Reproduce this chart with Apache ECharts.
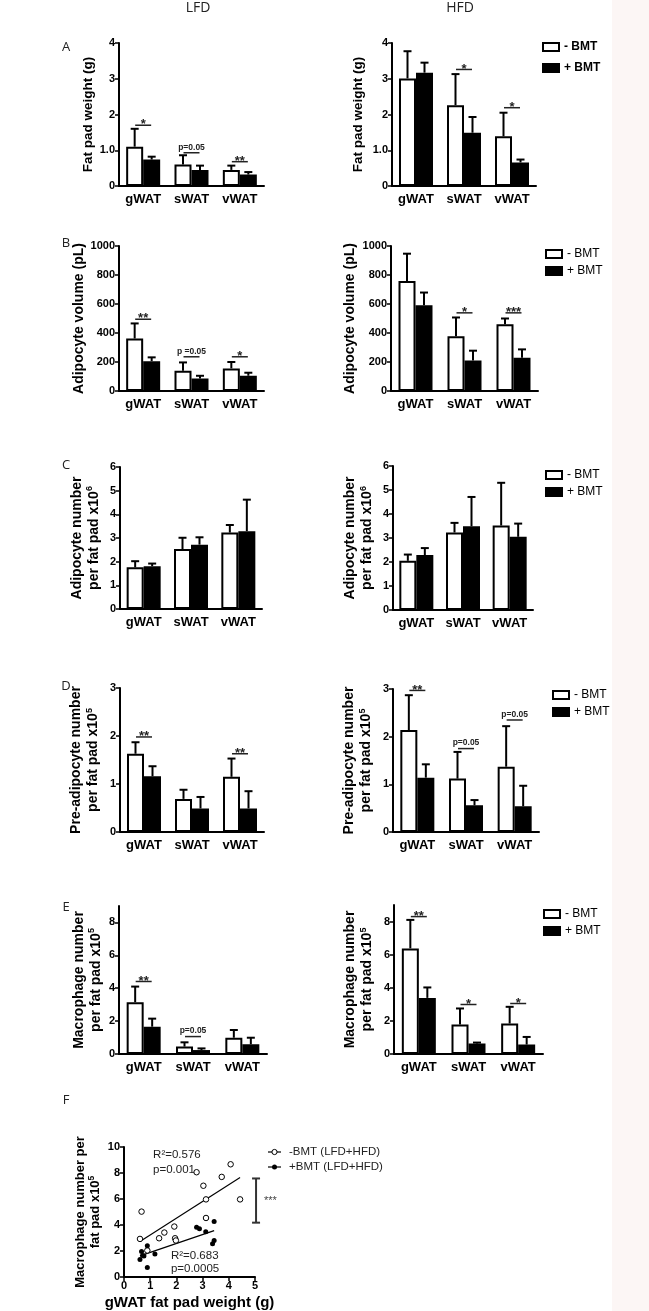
<!DOCTYPE html>
<html><head><meta charset="utf-8">
<script src="https://cdn.jsdelivr.net/npm/echarts@6/dist/echarts.min.js"></script>
<style>html,body{margin:0;padding:0;background:#fff}#c{width:649px;height:1311px}</style>
</head><body><div id="c"></div>
<script>
// ---------------- DATA ----------------
const categories = ['gWAT', 'sWAT', 'vWAT'];
const seriesNames = ['- BMT', '+ BMT'];

// A: Fat pad weight (g)
const fatLFD_minus = [1.10, 0.60, 0.45];
const fatLFD_minusSD = [0.50, 0.26, 0.12];
const fatLFD_plus = [0.74, 0.45, 0.32];
const fatLFD_plusSD = [0.08, 0.12, 0.07];
const fatHFD_minus = [3.01, 2.26, 1.39];
const fatHFD_minusSD = [0.76, 0.87, 0.66];
const fatHFD_plus = [3.17, 1.49, 0.66];
const fatHFD_plusSD = [0.28, 0.44, 0.08];
const fatLFD_sig = [[0, 1.70, '*'], [1, 0.93, 'p=0.05'], [2, 0.68, '**']];
const fatHFD_sig = [[1, 3.26, '*'], [2, 2.19, '*']];

// B: Adipocyte volume (pL)
const volLFD_minus = [362, 140, 156];
const volLFD_minusSD = [104, 57, 44];
const volLFD_plus = [206, 87, 105];
const volLFD_plusSD = [26, 18, 21];
const volHFD_minus = [759, 378, 461];
const volHFD_minusSD = [188, 129, 39];
const volHFD_plus = [592, 211, 229];
const volHFD_plusSD = [87, 67, 58];
const volLFD_sig = [[0, 495, '**'], [1, 236, 'p =0.05'], [2, 236, '*']];
const volHFD_sig = [[1, 539, '*'], [2, 539, '***']];

// C: Adipocyte number per fat pad x10^6
const numLFD_minus = [1.76, 2.53, 3.23];
const numLFD_minusSD = [0.26, 0.48, 0.32];
const numLFD_plus = [1.81, 2.72, 3.29];
const numLFD_plusSD = [0.11, 0.31, 1.33];
const numHFD_minus = [2.05, 3.23, 3.52];
const numHFD_minusSD = [0.26, 0.40, 1.78];
const numHFD_plus = [2.29, 3.49, 3.05];
const numHFD_plusSD = [0.29, 1.22, 0.55];

// D: Pre-adipocyte number per fat pad x10^5
const preLFD_minus = [1.63, 0.69, 1.15];
const preLFD_minusSD = [0.24, 0.19, 0.38];
const preLFD_plus = [1.16, 0.49, 0.49];
const preLFD_plusSD = [0.21, 0.24, 0.36];
const preHFD_minus = [2.14, 1.12, 1.37];
const preHFD_minusSD = [0.73, 0.56, 0.85];
const preHFD_plus = [1.14, 0.56, 0.54];
const preHFD_plusSD = [0.28, 0.11, 0.43];
const preLFD_sig = [[0, 1.98, '**'], [2, 1.63, '**']];
const preHFD_sig = [[0, 2.97, '**'], [1, 1.75, 'p=0.05'], [2, 2.35, 'p=0.05']];

// E: Macrophage number per fat pad x10^5
const macLFD_minus = [3.15, 0.45, 0.99];
const macLFD_minusSD = [0.95, 0.26, 0.47];
const macLFD_plus = [1.66, 0.24, 0.59];
const macLFD_plusSD = [0.49, 0.10, 0.40];
const macHFD_minus = [6.38, 1.78, 1.84];
const macHFD_minusSD = [1.72, 0.97, 1.01];
const macHFD_plus = [3.39, 0.63, 0.57];
const macHFD_plusSD = [0.63, 0.06, 0.46];
const macLFD_sig = [[0, 4.41, '**'], [1, 1.06, 'p=0.05']];
const macHFD_sig = [[0, 8.30, '**'], [1, 2.99, '*'], [2, 3.05, '*']];
const macTicks = [0, 2, 4, 6, 8];

// F: scatter gWAT fat pad weight vs macrophage number
const scatterMinus = [[0.61, 2.93], [0.67, 5.03], [0.89, 2.04], [1.34, 2.98], [1.54, 3.42], [1.92, 3.88], [1.95, 2.98], [1.98, 2.81], [2.77, 8.06], [3.03, 7.02], [3.13, 5.97], [3.13, 4.54], [3.73, 7.70], [4.07, 8.67], [4.43, 5.97]];
const scatterPlus = [[0.61, 1.35], [0.67, 1.96], [0.71, 1.66], [0.76, 1.62], [0.89, 2.40], [0.89, 0.74], [1.18, 1.76], [2.77, 3.83], [2.88, 3.72], [3.12, 3.49], [3.38, 2.55], [3.44, 2.81], [3.44, 4.26]];
const fitMinus = [[0.61, 2.73], [4.43, 7.65]];
const fitPlus = [[0.61, 1.63], [3.44, 3.57]];
const bracketF = [[5.04, 4.18, 7.58]];
const statsF = [[1.11, 9.36, 'R²=0.576'], [1.11, 8.27, 'p=0.001'], [1.79, 1.66, 'R²=0.683'], [1.79, 0.64, 'p=0.0005']];
const legendF = ['-BMT (LFD+HFD)', '+BMT (LFD+HFD)'];

// ---------------- BUILD ----------------
const FONT = '"Liberation Sans", Arial, Helvetica, sans-serif';
const LFONT = '"Open Sans", "Noto Sans", sans-serif';
const BW = 17;
const grids = [], xAxes = [], yAxes = [], series = [], legends = [];

function errRender(params, api) {
  const base = api.coord([api.value(0), api.value(1)]);
  const top = api.coord([api.value(0), api.value(2)]);
  const x = base[0] + api.value(3) * BW / 2;
  return {
    type: 'group', children: [
      { type: 'line', shape: { x1: x, y1: base[1], x2: x, y2: top[1] }, style: { stroke: '#000', lineWidth: 2 } },
      { type: 'line', shape: { x1: x - 4, y1: top[1], x2: x + 4, y2: top[1] }, style: { stroke: '#000', lineWidth: 2 } }
    ]
  };
}

function makeSigRender(sig) {
  return function (params, api) {
    const s = sig[params.dataIndex];
    const pt = api.coord([s[0], s[1]]);
    const star = s[2].indexOf('*') >= 0;
    return {
      type: 'group', children: [
        { type: 'line', shape: { x1: pt[0] - 8, y1: pt[1], x2: pt[0] + 8, y2: pt[1] }, style: { stroke: '#222', lineWidth: 1.5 } },
        {
          type: 'text', x: pt[0], y: star ? pt[1] + 6 : pt[1] - 1,
          style: {
            text: s[2], fill: '#222', fontFamily: FONT, fontWeight: 'bold',
            fontSize: star ? 13 : 8.5, align: 'center', verticalAlign: 'bottom'
          }
        }
      ]
    };
  };
}

function addBarPanel(p) {
  const gi = grids.length;
  grids.push({ left: p.box[0], top: p.box[1], width: p.box[2], height: p.box[3], containLabel: false, outerBoundsMode: 'none' });
  xAxes.push({
    type: 'category', gridIndex: gi, data: categories,
    axisLine: { show: true, lineStyle: { color: '#000', width: 2 } },
    axisTick: { show: false },
    axisLabel: { color: '#000', fontWeight: 'bold', fontSize: 13, fontFamily: FONT, margin: 7 },
    splitLine: { show: false }
  });
  const y = {
    type: 'value', gridIndex: gi, min: 0, max: p.max, interval: p.interval,
    name: p.name, nameLocation: 'middle', nameGap: p.nameGap, nameRotate: 90,
    nameTextStyle: {
      color: '#000', fontWeight: 'bold', fontSize: p.nameSize, fontFamily: FONT, lineHeight: p.nameLH,
      rich: { sup: { fontSize: 9, fontWeight: 'bold', color: '#000', fontFamily: FONT, verticalAlign: 'top', lineHeight: p.nameLH } }
    },
    axisLine: { show: true, lineStyle: { color: '#000', width: 2 } },
    axisTick: { show: true, length: 4, lineStyle: { color: '#000', width: 1.5 } },
    axisLabel: { color: '#000', fontWeight: 'bold', fontSize: 11, fontFamily: FONT, margin: 4, formatter: p.fmt || (v => String(v)) },
    splitLine: { show: false }
  };
  if (p.ticks) {
    y.axisTick.customValues = p.ticks;
    y.axisLabel.customValues = p.ticks;
  }
  yAxes.push(y);
  series.push({
    type: 'bar', name: seriesNames[0], xAxisIndex: gi, yAxisIndex: gi, data: p.minus,
    barWidth: BW, barGap: '0%', itemStyle: { color: '#fff', borderColor: '#000', borderWidth: 2 },
    silent: true, animation: false, z: 2
  });
  series.push({
    type: 'bar', name: seriesNames[1], xAxisIndex: gi, yAxisIndex: gi, data: p.plus,
    barWidth: BW, barGap: '0%', itemStyle: { color: '#000', borderColor: '#000', borderWidth: 2 },
    silent: true, animation: false, z: 2
  });
  const err = p.minus.map((m, i) => [i, m, m + p.minusSD[i], -1])
    .concat(p.plus.map((m, i) => [i, m, m + p.plusSD[i], 1]));
  series.push({
    type: 'custom', name: 'err' + gi, xAxisIndex: gi, yAxisIndex: gi, data: err,
    encode: { x: 0, y: [1, 2] }, renderItem: errRender, silent: true, animation: false, z: 3
  });
  if (p.sig && p.sig.length) {
    series.push({
      type: 'custom', name: 'sig' + gi, xAxisIndex: gi, yAxisIndex: gi,
      data: p.sig.map(s => [s[0], s[1]]), encode: { x: 0, y: 1 },
      renderItem: makeSigRender(p.sig), silent: true, animation: false, z: 4
    });
  }
  if (p.legend) {
    legends.push({
      orient: 'vertical', left: p.legend[0], top: p.legend[1], itemGap: p.legend[2],
      itemWidth: 16, itemHeight: 8, icon: 'rect', data: seriesNames, selectedMode: false,
      padding: 0,
      textStyle: { fontSize: 12, fontWeight: p.legendBold ? 'bold' : 'normal', color: '#000', fontFamily: FONT, lineHeight: 14 }
    });
  }
}

const fmt1 = v => (v === 1 ? '1.0' : String(v));

addBarPanel({ box: [119, 43, 145, 143], max: 4, interval: 1, fmt: fmt1, name: 'Fat pad weight (g)', nameGap: 23.5, nameSize: 13.5, nameLH: 15,
  minus: fatLFD_minus, minusSD: fatLFD_minusSD, plus: fatLFD_plus, plusSD: fatLFD_plusSD, sig: fatLFD_sig });
addBarPanel({ box: [392, 43, 144, 143], max: 4, interval: 1, fmt: fmt1, name: 'Fat pad weight (g)', nameGap: 26.5, nameSize: 13.5, nameLH: 15,
  minus: fatHFD_minus, minusSD: fatHFD_minusSD, plus: fatHFD_plus, plusSD: fatHFD_plusSD, sig: fatHFD_sig,
  legend: [542, 40, 7], legendBold: true });

addBarPanel({ box: [119, 246, 145, 145], max: 1000, interval: 200, name: 'Adipocyte volume (pL)', nameGap: 26.5, nameSize: 14, nameLH: 15,
  minus: volLFD_minus, minusSD: volLFD_minusSD, plus: volLFD_plus, plusSD: volLFD_plusSD, sig: volLFD_sig });
addBarPanel({ box: [391, 246, 147, 145], max: 1000, interval: 200, name: 'Adipocyte volume (pL)', nameGap: 33.5, nameSize: 14, nameLH: 15,
  minus: volHFD_minus, minusSD: volHFD_minusSD, plus: volHFD_plus, plusSD: volHFD_plusSD, sig: volHFD_sig,
  legend: [545, 247, 3] });

addBarPanel({ box: [120, 467, 142, 142], max: 6, interval: 1, name: 'Adipocyte number\nper fat pad x10{sup|6}', nameGap: 17.5, nameSize: 14, nameLH: 17,
  minus: numLFD_minus, minusSD: numLFD_minusSD, plus: numLFD_plus, plusSD: numLFD_plusSD });
addBarPanel({ box: [393, 466, 140, 144], max: 6, interval: 1, name: 'Adipocyte number\nper fat pad x10{sup|6}', nameGap: 17, nameSize: 14, nameLH: 17,
  minus: numHFD_minus, minusSD: numHFD_minusSD, plus: numHFD_plus, plusSD: numHFD_plusSD,
  legend: [545, 468, 3] });

addBarPanel({ box: [120, 688, 144, 144], max: 3, interval: 1, name: 'Pre-adipocyte number\nper fat pad x10{sup|5}', nameGap: 18, nameSize: 14, nameLH: 17,
  minus: preLFD_minus, minusSD: preLFD_minusSD, plus: preLFD_plus, plusSD: preLFD_plusSD, sig: preLFD_sig });
addBarPanel({ box: [393, 689, 146, 143], max: 3, interval: 1, name: 'Pre-adipocyte number\nper fat pad x10{sup|5}', nameGap: 18, nameSize: 14, nameLH: 17,
  minus: preHFD_minus, minusSD: preHFD_minusSD, plus: preHFD_plus, plusSD: preHFD_plusSD, sig: preHFD_sig,
  legend: [552, 688, 3] });

addBarPanel({ box: [119, 906, 148, 148], max: 9, interval: 1, ticks: macTicks, name: 'Macrophage number\nper fat pad x10{sup|5}', nameGap: 14.5, nameSize: 14, nameLH: 17,
  minus: macLFD_minus, minusSD: macLFD_minusSD, plus: macLFD_plus, plusSD: macLFD_plusSD, sig: macLFD_sig });
addBarPanel({ box: [394, 905, 149, 149], max: 9, interval: 1, ticks: macTicks, name: 'Macrophage number\nper fat pad x10{sup|5}', nameGap: 18, nameSize: 14, nameLH: 17,
  minus: macHFD_minus, minusSD: macHFD_minusSD, plus: macHFD_plus, plusSD: macHFD_plusSD, sig: macHFD_sig,
  legend: [543, 907, 3] });

// Panel F
const gF = grids.length;
grids.push({ left: 124, top: 1147, width: 131, height: 130, containLabel: false, outerBoundsMode: 'none' });
xAxes.push({
  type: 'value', gridIndex: gF, min: 0, max: 5, interval: 1,
  name: 'gWAT fat pad weight (g)', nameLocation: 'middle', nameGap: 17.5,
  nameTextStyle: { color: '#000', fontWeight: 'bold', fontSize: 15, fontFamily: FONT, lineHeight: 17 },
  axisLine: { show: true, lineStyle: { color: '#000', width: 2 } },
  axisTick: { show: true, length: 4, lineStyle: { color: '#000', width: 1.5 } },
  axisLabel: { color: '#000', fontWeight: 'bold', fontSize: 11, fontFamily: FONT, margin: 3 },
  splitLine: { show: false }
});
yAxes.push({
  type: 'value', gridIndex: gF, min: 0, max: 10, interval: 2,
  name: 'Macrophage number per\nfat pad x10{sup|5}', nameLocation: 'middle', nameGap: 21.5, nameRotate: 90,
  nameTextStyle: {
    color: '#000', fontWeight: 'bold', fontSize: 13, fontFamily: FONT, lineHeight: 15,
    rich: { sup: { fontSize: 8.5, fontWeight: 'bold', color: '#000', fontFamily: FONT, verticalAlign: 'top', lineHeight: 15 } }
  },
  axisLine: { show: true, lineStyle: { color: '#000', width: 2 } },
  axisTick: { show: true, length: 4, lineStyle: { color: '#000', width: 1.5 } },
  axisLabel: { color: '#000', fontWeight: 'bold', fontSize: 11, fontFamily: FONT, margin: 4 },
  splitLine: { show: false }
});
series.push({
  type: 'line', name: 'fitMinus', xAxisIndex: gF, yAxisIndex: gF, data: fitMinus, symbol: 'none',
  lineStyle: { color: '#000', width: 1.2 }, silent: true, animation: false, z: 2
});
series.push({
  type: 'line', name: 'fitPlus', xAxisIndex: gF, yAxisIndex: gF, data: fitPlus, symbol: 'none',
  lineStyle: { color: '#000', width: 1.2 }, silent: true, animation: false, z: 2
});
series.push({
  type: 'scatter', name: legendF[0], xAxisIndex: gF, yAxisIndex: gF, data: scatterMinus,
  symbol: 'circle', symbolSize: 5.5, itemStyle: { color: '#fff', borderColor: '#000', borderWidth: 1, opacity: 1 },
  silent: true, animation: false, z: 3
});
series.push({
  type: 'scatter', name: legendF[1], xAxisIndex: gF, yAxisIndex: gF, data: scatterPlus,
  symbol: 'circle', symbolSize: 5, itemStyle: { color: '#000', opacity: 1 },
  silent: true, animation: false, z: 3
});
series.push({
  type: 'custom', name: 'bracketF', xAxisIndex: gF, yAxisIndex: gF, data: bracketF, encode: { x: 0, y: [1, 2] },
  silent: true, animation: false, z: 4,
  renderItem: function (params, api) {
    const lo = api.coord([api.value(0), api.value(1)]);
    const hi = api.coord([api.value(0), api.value(2)]);
    const st = { stroke: '#333', lineWidth: 2 };
    return {
      type: 'group', children: [
        { type: 'line', shape: { x1: lo[0], y1: lo[1], x2: hi[0], y2: hi[1] }, style: st },
        { type: 'line', shape: { x1: lo[0] - 4, y1: lo[1], x2: lo[0] + 4, y2: lo[1] }, style: st },
        { type: 'line', shape: { x1: hi[0] - 4, y1: hi[1], x2: hi[0] + 4, y2: hi[1] }, style: st },
        { type: 'text', x: lo[0] + 8, y: (lo[1] + hi[1]) / 2, style: { text: '***', fill: '#444', fontSize: 11, fontFamily: FONT, align: 'left', verticalAlign: 'middle' } }
      ]
    };
  }
});
series.push({
  type: 'custom', name: 'statsF', xAxisIndex: gF, yAxisIndex: gF, data: statsF.map(s => [s[0], s[1]]), encode: { x: 0, y: 1 },
  silent: true, animation: false, z: 4,
  renderItem: function (params, api) {
    const s = statsF[params.dataIndex];
    const pt = api.coord([s[0], s[1]]);
    return { type: 'text', x: pt[0], y: pt[1], style: { text: s[2], fill: '#222', fontSize: 11.5, fontFamily: FONT, align: 'left', verticalAlign: 'middle' } };
  }
});

const option = {
  backgroundColor: '#fff',
  animation: false,
  grid: grids, xAxis: xAxes, yAxis: yAxes, series: series, legend: legends,
  graphic: [
    { type: 'rect', left: 612, top: 0, shape: { width: 37, height: 1311 }, style: { fill: '#fcf6f5' }, silent: true, z: -10 },
    { type: 'text', x: 198, y: 8, style: { text: 'LFD', fontSize: 14, fontFamily: LFONT, fill: '#222', align: 'center', verticalAlign: 'middle' } },
    { type: 'text', x: 460, y: 8, style: { text: 'HFD', fontSize: 14, fontFamily: LFONT, fill: '#222', align: 'center', verticalAlign: 'middle' } },
    { type: 'text', x: 66, y: 47, style: { text: 'A', fontSize: 13, fontFamily: LFONT, fill: '#222', align: 'center', verticalAlign: 'middle' } },
    { type: 'text', x: 66, y: 243, style: { text: 'B', fontSize: 13, fontFamily: LFONT, fill: '#222', align: 'center', verticalAlign: 'middle' } },
    { type: 'text', x: 66, y: 465, style: { text: 'C', fontSize: 13, fontFamily: LFONT, fill: '#222', align: 'center', verticalAlign: 'middle' } },
    { type: 'text', x: 66, y: 686, style: { text: 'D', fontSize: 13, fontFamily: LFONT, fill: '#222', align: 'center', verticalAlign: 'middle' } },
    { type: 'text', x: 66, y: 907, style: { text: 'E', fontSize: 13, fontFamily: LFONT, fill: '#222', align: 'center', verticalAlign: 'middle' } },
    { type: 'text', x: 66, y: 1100, style: { text: 'F', fontSize: 13, fontFamily: LFONT, fill: '#222', align: 'center', verticalAlign: 'middle' } },
    // F legend
    { type: 'line', shape: { x1: 268, y1: 1152, x2: 281, y2: 1152 }, style: { stroke: '#000', lineWidth: 1.2 } },
    { type: 'circle', shape: { cx: 274.5, cy: 1152, r: 2.6 }, style: { fill: '#fff', stroke: '#000', lineWidth: 1 } },
    { type: 'text', x: 289, y: 1152, style: { text: legendF[0], fontSize: 11.5, fontFamily: FONT, fill: '#222', align: 'left', verticalAlign: 'middle' } },
    { type: 'line', shape: { x1: 268, y1: 1167, x2: 281, y2: 1167 }, style: { stroke: '#000', lineWidth: 1.2 } },
    { type: 'circle', shape: { cx: 274.5, cy: 1167, r: 2.5 }, style: { fill: '#000' } },
    { type: 'text', x: 289, y: 1167, style: { text: legendF[1], fontSize: 11.5, fontFamily: FONT, fill: '#222', align: 'left', verticalAlign: 'middle' } }
  ]
};

const chart = echarts.init(document.getElementById('c'), null, { renderer: 'canvas', width: 649, height: 1311 });
chart.setOption(option);
</script></body></html>
